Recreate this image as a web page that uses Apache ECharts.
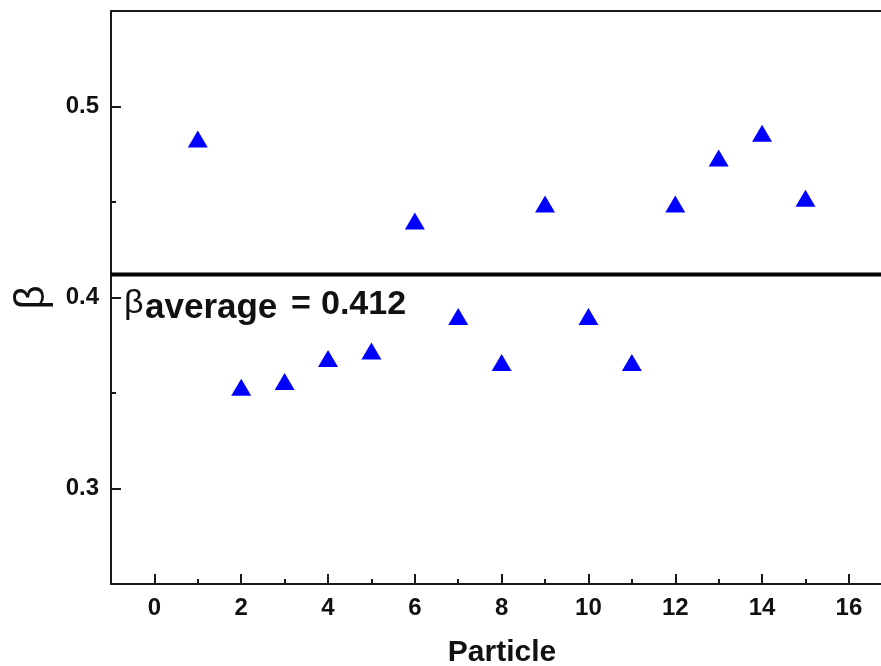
<!DOCTYPE html>
<html>
<head>
<meta charset="utf-8">
<script src="https://cdn.jsdelivr.net/npm/echarts@6/dist/echarts.min.js"></script>
<style>
html,body{margin:0;padding:0;background:#fff;}
#chart{width:881px;height:666px;}
</style>
</head>
<body>
<div id="chart"></div>
<script>
const particle = [1, 2, 3, 4, 5, 6, 7, 8, 9, 10, 11, 12, 13, 14, 15];
const beta = [0.483, 0.353, 0.356, 0.368, 0.372, 0.440, 0.390, 0.366, 0.449, 0.390, 0.366, 0.449, 0.473, 0.486, 0.452];
const xMajorTicks = [0, 2, 4, 6, 8, 10, 12, 14, 16];
const xMinorTicks = [1, 3, 5, 7, 9, 11, 13, 15];
const yMajorTicks = [0.3, 0.4, 0.5];
const yMinorTicks = [0.35, 0.45];
const betaAverage = 0.412;
const xRange = [-1, 16.74];
const yRange = [0.25, 0.55];

const FONT = 'Liberation Sans, Arial, sans-serif';
const AX = '#1a1a1a';

const chart = echarts.init(document.getElementById('chart'));
chart.setOption({
  backgroundColor: '#fff',
  animation: false,
  grid: { left: 111, right: 0, top: 11, bottom: 82, containLabel: false, outerBoundsMode: 'none' },
  xAxis: [
    {
      type: 'value', position: 'bottom', min: xRange[0], max: xRange[1],
      axisLine: { show: true, onZero: false, lineStyle: { color: AX, width: 2 } },
      axisTick: { show: true, inside: true, length: 10, customValues: xMajorTicks, lineStyle: { color: AX, width: 2 } },
      axisLabel: { show: true, customValues: xMajorTicks, margin: 12, color: '#111', fontFamily: FONT, fontWeight: 'bold', fontSize: 24 },
      splitLine: { show: false },
      name: 'Particle', nameLocation: 'middle', nameGap: 54,
      nameTextStyle: { color: '#111', fontFamily: FONT, fontWeight: 'bold', fontSize: 30, padding: [0, 0, 0, 12] }
    },
    {
      type: 'value', position: 'bottom', min: xRange[0], max: xRange[1],
      axisLine: { show: false, onZero: false },
      axisTick: { show: true, inside: true, length: 5, customValues: xMinorTicks, lineStyle: { color: AX, width: 2 } },
      axisLabel: { show: false },
      splitLine: { show: false }
    },
    {
      type: 'value', position: 'top', min: xRange[0], max: xRange[1],
      axisLine: { show: true, onZero: false, lineStyle: { color: AX, width: 2 } },
      axisTick: { show: false }, axisLabel: { show: false }, splitLine: { show: false }
    }
  ],
  yAxis: [
    {
      type: 'value', position: 'left', min: yRange[0], max: yRange[1],
      axisLine: { show: true, onZero: false, lineStyle: { color: AX, width: 2 } },
      axisTick: { show: true, inside: true, length: 10, customValues: yMajorTicks, lineStyle: { color: AX, width: 2 } },
      axisLabel: { show: true, customValues: yMajorTicks, margin: 12, color: '#111', fontFamily: FONT, fontWeight: 'bold', fontSize: 24,
        formatter: v => v.toFixed(1) },
      splitLine: { show: false },
      name: 'β', nameLocation: 'middle', nameGap: 58, nameRotate: 90,
      nameTextStyle: { color: '#111', fontFamily: FONT, fontSize: 42 }
    },
    {
      type: 'value', position: 'left', offset: 0, min: yRange[0], max: yRange[1],
      axisLine: { show: false, onZero: false },
      axisTick: { show: true, inside: true, length: 5, customValues: yMinorTicks, lineStyle: { color: AX, width: 2 } },
      axisLabel: { show: false },
      splitLine: { show: false }
    }
  ],
  series: [
    {
      type: 'line',
      xAxisIndex: 0, yAxisIndex: 0,
      silent: true,
      symbol: 'none',
      lineStyle: { color: '#000', width: 4, opacity: 1 },
      data: [[xRange[0], betaAverage], [xRange[1], betaAverage]],
      z: 1
    },
    {
      type: 'scatter',
      xAxisIndex: 0, yAxisIndex: 0,
      symbol: 'triangle',
      symbolSize: [20, 17],
      itemStyle: { color: '#0000ff', opacity: 1 },
      data: particle.map((p, i) => [p, beta[i]]),
      z: 3
    }
  ],
  graphic: [
    { type: 'text', left: 124, top: 287, style: { text: 'β', font: 'normal 34px ' + FONT, fill: '#111' } },
    { type: 'text', left: 145, top: 291, style: { text: 'average', font: 'bold 35px ' + FONT, fill: '#111' } },
    { type: 'text', left: 291, top: 288, style: { text: '=', font: 'bold 34px ' + FONT, fill: '#111' } },
    { type: 'text', left: 321, top: 288, style: { text: betaAverage.toFixed(3), font: 'bold 34px ' + FONT, fill: '#111' } }
  ]
});
</script>
</body>
</html>
